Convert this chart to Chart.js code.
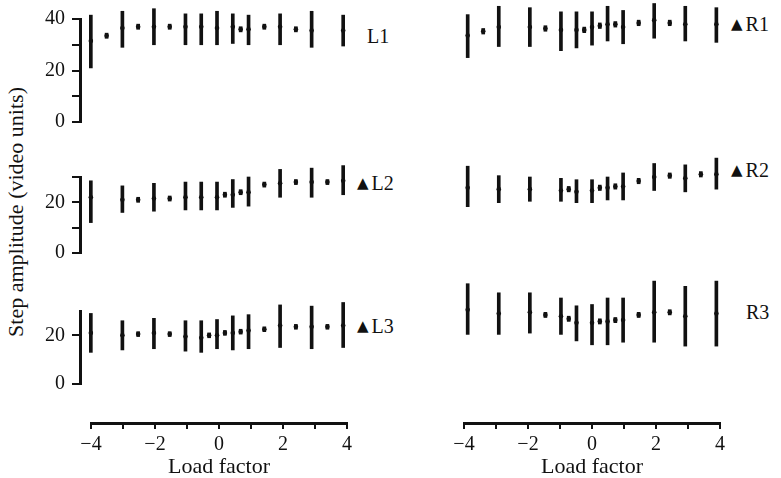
<!DOCTYPE html>
<html>
<head>
<meta charset="utf-8">
<script src="https://cdn.jsdelivr.net/npm/chart.js@4"></script>
<style>
  body { margin: 0; background: #fff; }
  #page { position: relative; width: 781px; height: 478px; overflow: hidden; font-family: "Liberation Serif", serif; color: #111; }
  #page canvas { position: absolute; }
  .tag { position: absolute; font-size: 20px; line-height: 20px; white-space: nowrap; }
  .tri { font-family: "DejaVu Sans", sans-serif; font-size: 15px; margin-right: 3px; position: relative; top: -2px; }
  #ytitle { position: absolute; left: 16px; top: 212px; font-size: 22px; line-height: 22px; white-space: nowrap; transform: translate(-50%, -50%) rotate(-90deg); }
</style>
</head>
<body>
<div id="page">
  <div id="ytitle">Step amplitude (video units)</div>
  <div class="tag" style="left:367px; top:26px;">L1</div>
  <div class="tag" style="left:357px; top:173px;"><span class="tri">▲</span>L2</div>
  <div class="tag" style="left:357px; top:316px;"><span class="tri">▲</span>L3</div>
  <div class="tag" style="left:731px; top:14px;"><span class="tri">▲</span>R1</div>
  <div class="tag" style="left:731px; top:160px;"><span class="tri">▲</span>R2</div>
  <div class="tag" style="left:746px; top:302px;">R3</div>
</div>
<script>
// load factor positions, mean step amplitude and the ends of each bar
const l1X    = [-4, -3.5, -3, -2.5, -2, -1.5, -1, -0.5, 0, 0.5, 0.75, 1, 1.5, 2, 2.5, 3, 4];
const l1Mean = [31.5, 33.5, 36.5, 37, 37, 37, 37, 37, 36.5, 37, 36, 36, 37, 37, 36, 35.5, 35.5];
const l1Low  = [21, 32.5, 29, 36, 30, 36, 30, 30, 30, 30.5, 35, 30, 36, 30, 35, 29, 29.5];
const l1High = [41.5, 34.5, 43, 38, 44, 38, 42, 42, 43, 42, 37, 41.5, 38, 42, 37, 43, 41.5];

const l2X    = [-4, -3, -2.5, -2, -1.5, -1, -0.5, 0, 0.25, 0.5, 0.75, 1, 1.5, 2, 2.5, 3, 3.5, 4];
const l2Mean = [22, 21, 21, 21.5, 21.5, 22, 22, 22, 23, 23, 24, 24, 27, 27.5, 28, 28, 28, 28.5];
const l2Low  = [12, 16, 20, 16.5, 20.5, 17, 17, 17, 22, 18, 23, 18.5, 26, 22, 27, 22, 27, 23];
const l2High = [28.5, 26.5, 22, 27.5, 22.5, 28, 28, 28, 24, 29, 25, 30, 28, 33, 29, 33.5, 29, 34.5];

const l3X    = [-4, -3, -2.5, -2, -1.5, -1, -0.5, -0.25, 0, 0.25, 0.5, 0.75, 1, 1.5, 2, 2.5, 3, 3.5, 4];
const l3Mean = [21, 20, 20.5, 21, 20.5, 19.5, 19, 20, 20, 21, 21, 21.5, 22, 22.5, 24, 23.5, 23.5, 23.5, 24];
const l3Low  = [13, 14, 19.5, 14.5, 19.5, 13.5, 13, 19, 14.5, 20, 14, 20.5, 14.5, 21.5, 15, 22.5, 14.5, 22.5, 15];
const l3High = [29, 26, 21.5, 27, 21.5, 26, 26, 21, 26.5, 22, 28, 22.5, 28.5, 23.5, 32.5, 24.5, 32, 24.5, 33.5];

const r1X    = [-4, -3.5, -3, -2, -1.5, -1, -0.5, -0.25, 0, 0.25, 0.5, 0.75, 1, 1.5, 2, 2.5, 3, 4];
const r1Mean = [33, 34.5, 36, 36, 35.5, 35, 35, 35, 36, 36.5, 37, 37, 36, 37.5, 38.5, 37.5, 37, 37];
const r1Low  = [25, 33.5, 29, 29, 34.5, 27.5, 28.5, 34, 29.5, 35.5, 31, 36, 30, 36.5, 32, 36.5, 31, 30.5];
const r1High = [40.5, 35.5, 43.5, 43, 36.5, 41.5, 41.5, 36, 41.5, 37.5, 43.5, 38, 42, 38.5, 44.5, 38.5, 43.5, 43];

const r2X    = [-4, -3, -2, -1, -0.75, -0.5, 0, 0.25, 0.5, 0.75, 1, 1.5, 2, 2.5, 3, 3.5, 4];
const r2Mean = [26, 25.5, 25.5, 25, 25.5, 24.5, 25, 26, 26, 26.5, 26.5, 28.5, 30, 30.5, 29.5, 31, 31];
const r2Low  = [19, 20.5, 21, 21, 24.5, 20.5, 20.5, 25, 21.5, 25.5, 21.5, 27.5, 25, 29.5, 24.5, 30, 25.5];
const r2High = [34, 30.5, 30, 29.5, 26.5, 29, 29, 27, 30, 27.5, 31.5, 29.5, 35, 31.5, 34.5, 32, 37];

const r3X    = [-4, -3, -2, -1.5, -1, -0.75, -0.5, 0, 0.25, 0.5, 0.75, 1, 1.5, 2, 2.5, 3, 4];
const r3Mean = [30.5, 29, 29.5, 28.5, 28, 27, 25.5, 25.5, 26, 26, 26.5, 26.5, 28.5, 29.5, 29.5, 28, 29];
const r3Low  = [21, 21, 21.5, 27.5, 21, 26, 18.5, 17, 25, 17, 25.5, 18, 27.5, 18, 28.5, 16.5, 16.5];
const r3High = [40.5, 37, 37, 29.5, 35, 28, 32, 32.5, 27, 35, 27.5, 35, 29.5, 41.5, 30.5, 39.5, 41.5];

const xTicks = [-4, -3, -2, -1, 0, 1, 2, 3, 4];
const xTitle = 'Load factor';

const ink = '#111';
const serif = 'Liberation Serif';
const page = document.getElementById('page');

// x range chosen so -4..4 sit a little inside the panel (32 px per unit)
const X_MIN = -4.34375;
const X_MAX = 4.40625;

function makeCanvas(left, top, w, h) {
  const c = document.createElement('canvas');
  c.width = w;
  c.height = h;
  c.style.left = left + 'px';
  c.style.top = top + 'px';
  page.appendChild(c);
  return c;
}

// one panel: floating bars for the spread, a dot for the mean
function panel(left, top, w, h, padTop, padBottom, xs, mean, low, high, yMax, showY) {
  const c = makeCanvas(left, top, w, h);
  return new Chart(c, {
    type: 'bar',
    data: {
      datasets: [
        {
          type: 'scatter',
          data: xs.map((x, i) => ({ x: x, y: mean[i] })),
          pointRadius: 2.3,
          pointBackgroundColor: ink,
          pointBorderWidth: 0,
          clip: false,
          order: 1
        },
        {
          type: 'bar',
          data: xs.map((x, i) => ({ x: x, y: [low[i], high[i]] })),
          backgroundColor: ink,
          borderWidth: 0,
          barThickness: 3,
          clip: false,
          order: 2
        }
      ]
    },
    options: {
      responsive: false,
      animation: false,
      devicePixelRatio: 1,
      layout: { padding: { top: padTop, bottom: padBottom, left: 0, right: 0 } },
      plugins: { legend: { display: false }, tooltip: { enabled: false } },
      scales: {
        x: { type: 'linear', min: X_MIN, max: X_MAX, offset: false, display: false },
        y: {
          min: 0,
          max: yMax,
          display: showY,
          afterFit: (s) => { if (showY) s.width = 40; },
          ticks: {
            stepSize: 10,
            padding: 7,
            color: ink,
            font: { family: serif, size: 20 },
            callback: (v) => (v % 20 === 0 ? String(v) : '')
          },
          grid: { drawOnChartArea: false, tickLength: 8, lineWidth: 2, color: ink },
          border: { display: true, width: 3, color: ink }
        }
      }
    }
  });
}

// bottom load factor axis, drawn on its own under each column
function xAxis(left) {
  const c = makeCanvas(left, 400, 296, 78);
  return new Chart(c, {
    type: 'scatter',
    data: { datasets: [{ data: [] }] },
    options: {
      responsive: false,
      animation: false,
      devicePixelRatio: 1,
      layout: { padding: { left: 20, right: 20, top: 0, bottom: 0 } },
      plugins: { legend: { display: false }, tooltip: { enabled: false } },
      scales: {
        x: {
          type: 'linear',
          min: xTicks[0],
          max: xTicks[xTicks.length - 1],
          afterFit: (s) => { s.height = 55; },
          afterBuildTicks: (s) => { s.ticks = xTicks.map(v => ({ value: v })); },
          ticks: {
            autoSkip: false,
            maxRotation: 0,
            padding: 4,
            color: ink,
            font: { family: serif, size: 20 },
            callback: (v) => (v % 2 === 0 ? (v < 0 ? '\u2212' + (-v) : String(v)) : '')
          },
          grid: { drawOnChartArea: false, tickLength: 6, lineWidth: 2, color: ink },
          border: { display: true, width: 3, color: ink },
          title: {
            display: true,
            text: xTitle,
            color: ink,
            font: { family: serif, size: 22, lineHeight: 1 },
            padding: { top: 0, bottom: 0 }
          }
        },
        y: { display: false, min: 0, max: 1 }
      }
    }
  });
}

// left column (y axis shown), right column (same scales, no axis)
panel(40, 0, 320, 141, 16, 14, l1X, l1Mean, l1Low, l1High, 40, true);
panel(40, 150, 320, 122, 27, 14, l2X, l2Mean, l2Low, l2High, 30, true);
panel(40, 280, 320, 123, 31, 14, l3X, l3Mean, l3Low, l3High, 30, true);

panel(453, 0, 280, 141, 16, 14, r1X, r1Mean, r1Low, r1High, 40, false);
panel(453, 150, 280, 122, 27, 14, r2X, r2Mean, r2Low, r2High, 30, false);
panel(453, 280, 280, 123, 31, 14, r3X, r3Mean, r3Low, r3High, 30, false);

xAxis(71);
xAxis(444);
</script>
</body>
</html>
